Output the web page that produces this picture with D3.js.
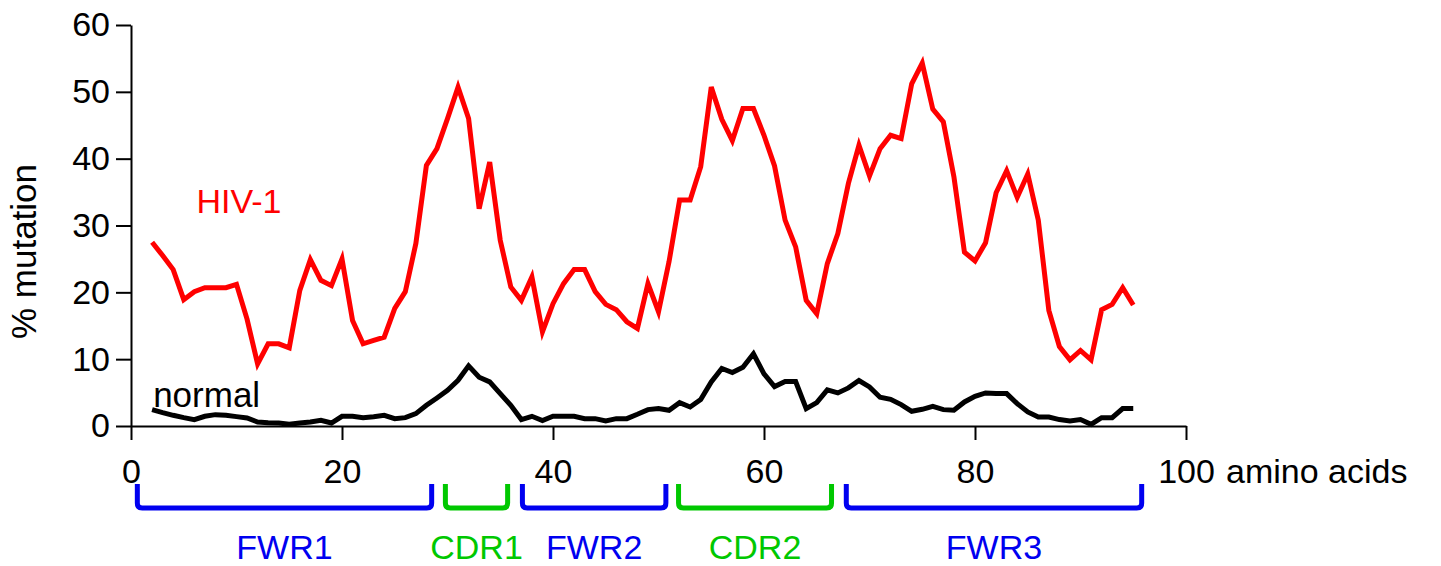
<!DOCTYPE html>
<html>
<head>
<meta charset="utf-8">
<script src="https://cdn.jsdelivr.net/npm/d3@7"></script>
<style>
  body { margin: 0; background: #fff; }
  svg { display: block; font-family: "Liberation Sans", Arial, sans-serif; }
</style>
</head>
<body>
<div id="chart"></div>
<script>
// amino acid positions along the V region
const positions = [
   2,  3,  4,  5,  6,  7,  8,  9, 10, 11, 12, 13, 14, 15, 16, 17, 18, 19, 20, 21,
  22, 23, 24, 25, 26, 27, 28, 29, 30, 31, 32, 33, 34, 35, 36, 37, 38, 39, 40, 41,
  42, 43, 44, 45, 46, 47, 48, 49, 50, 51, 52, 53, 54, 55, 56, 57, 58, 59, 60, 61,
  62, 63, 64, 65, 66, 67, 68, 69, 70, 71, 72, 73, 74, 75, 76, 77, 78, 79, 80, 81,
  82, 83, 84, 85, 86, 87, 88, 89, 90, 91, 92, 93, 94, 95
];

const hivMutation = [
  27.5, 25.5, 23.4, 18.9, 20.1, 20.7, 20.7, 20.7, 21.2, 16.0, 9.3, 12.3, 12.3, 11.7, 20.3, 24.9, 21.8, 21.0, 25.0, 15.8,
  12.3, 12.8, 13.3, 17.6, 20.1, 27.3, 39.0, 41.5, 46.0, 50.7, 46.0, 32.5, 39.5, 27.8, 20.8, 18.8, 22.3, 14.1, 18.3, 21.3,
  23.4, 23.4, 20.1, 18.2, 17.4, 15.6, 14.6, 21.3, 17.1, 24.6, 33.8, 33.8, 38.8, 50.7, 45.9, 42.7, 47.5, 47.5, 43.5, 38.9,
  30.8, 26.8, 18.8, 16.8, 24.3, 28.8, 36.3, 42.0, 37.4, 41.5, 43.5, 43.0, 51.2, 54.3, 47.4, 45.5, 37.3, 26.0, 24.7, 27.4,
  34.9, 38.2, 34.2, 37.7, 30.8, 17.3, 11.9, 9.9, 11.3, 9.9, 17.4, 18.2, 20.7, 18.1
];

const normalMutation = [
  2.45, 2.0, 1.6, 1.25, 0.96, 1.45, 1.7, 1.6, 1.4, 1.2, 0.6, 0.5, 0.45, 0.25, 0.45, 0.6, 0.85, 0.45, 1.45, 1.45,
  1.25, 1.4, 1.6, 1.1, 1.25, 1.85, 3.1, 4.2, 5.35, 6.85, 9.0, 7.3, 6.6, 4.85, 3.1, 0.96, 1.45, 0.8, 1.45, 1.45,
  1.45, 1.1, 1.1, 0.75, 1.1, 1.1, 1.75, 2.45, 2.6, 2.35, 3.5, 2.85, 3.95, 6.6, 8.6, 8.0, 8.8, 10.8, 7.8, 5.9,
  6.65, 6.65, 2.6, 3.5, 5.4, 4.95, 5.7, 6.8, 5.85, 4.3, 4.0, 3.2, 2.2, 2.5, 2.95, 2.45, 2.35, 3.6, 4.45, 4.95,
  4.85, 4.85, 3.35, 2.1, 1.35, 1.35, 0.96, 0.75, 0.96, 0.25, 1.25, 1.25, 2.6, 2.6
];

const xTicks = [0, 20, 40, 60, 80, 100];
const yTicks = [0, 10, 20, 30, 40, 50, 60];

// framework / CDR regions (start, end in amino acid units)
const regionNames = ["FWR1", "CDR1", "FWR2", "CDR2", "FWR3"];
const regionStart = [0.6, 29.8, 37.1, 51.9, 67.8];
const regionEnd = [28.5, 35.7, 50.7, 66.4, 95.8];
const regionKind = ["fwr", "cdr", "fwr", "cdr", "fwr"];

const W = 1441, H = 566;
const margin = { top: 25, right: 255, bottom: 140, left: 131 };
const width = W - margin.left - margin.right;
const height = H - margin.top - margin.bottom;

const regionColor = { fwr: "#0000f0", cdr: "#00c800" };

const svg = d3.select("#chart")
  .append("svg")
  .attr("width", W)
  .attr("height", H);

const g = svg.append("g")
  .attr("transform", `translate(${margin.left},${margin.top})`);

const x = d3.scaleLinear().domain([0, 100]).range([0, width]);
const y = d3.scaleLinear().domain([0, 60]).range([height, 0]);

// axes
const yAxis = g.append("g")
  .call(d3.axisLeft(y).tickValues(yTicks).tickSize(15).tickPadding(6).tickSizeOuter(0));

const xAxis = g.append("g")
  .attr("transform", `translate(0,${height})`)
  .call(d3.axisBottom(x).tickValues(xTicks).tickSize(14).tickPadding(19).tickSizeOuter(0));

[xAxis, yAxis].forEach(ax => {
  ax.selectAll("path, line").attr("stroke", "#000").attr("stroke-width", 2);
  ax.selectAll("text")
    .attr("fill", "#000")
    .style("font-family", "'Liberation Sans', Arial, sans-serif")
    .style("font-size", "34px");
});

g.append("text")
  .attr("x", x(100) + 40)
  .attr("y", height + 33)
  .attr("dy", "0.71em")
  .style("font-size", "34px")
  .text("amino acids");

g.append("text")
  .attr("transform", `translate(${-95},${height / 2 + 26}) rotate(-90)`)
  .attr("text-anchor", "middle")
  .style("font-size", "35px")
  .text("% mutation");

// lines
const line = d3.line()
  .x((d, i) => x(positions[i]))
  .y(d => y(d));

g.append("path")
  .datum(normalMutation)
  .attr("fill", "none")
  .attr("stroke", "#000")
  .attr("stroke-width", 5)
  .attr("d", line);

g.append("path")
  .datum(hivMutation)
  .attr("fill", "none")
  .attr("stroke", "#ff0000")
  .attr("stroke-width", 5)
  .attr("d", line);

// series labels
g.append("text")
  .attr("x", x(6.2))
  .attr("y", y(31.9))
  .attr("fill", "#ff0000")
  .style("font-size", "34px")
  .text("HIV-1");

g.append("text")
  .attr("x", x(2.1))
  .attr("y", y(2.8))
  .attr("fill", "#000")
  .style("font-size", "35px")
  .text("normal");

// region brackets
const bTop = height + 58, bBottom = height + 82, r = 5;
const regions = g.append("g");

regionNames.forEach((name, i) => {
  const x0 = x(regionStart[i]), x1 = x(regionEnd[i]);
  const col = regionColor[regionKind[i]];
  regions.append("path")
    .attr("d", `M${x0},${bTop} L${x0},${bBottom - r} Q${x0},${bBottom} ${x0 + r},${bBottom}` +
               ` L${x1 - r},${bBottom} Q${x1},${bBottom} ${x1},${bBottom - r} L${x1},${bTop}`)
    .attr("fill", "none")
    .attr("stroke", col)
    .attr("stroke-width", 5);
  regions.append("text")
    .attr("x", (x0 + x1) / 2)
    .attr("y", height + 133)
    .attr("text-anchor", "middle")
    .attr("fill", col)
    .style("font-size", "34px")
    .text(name);
});
</script>
</body>
</html>
